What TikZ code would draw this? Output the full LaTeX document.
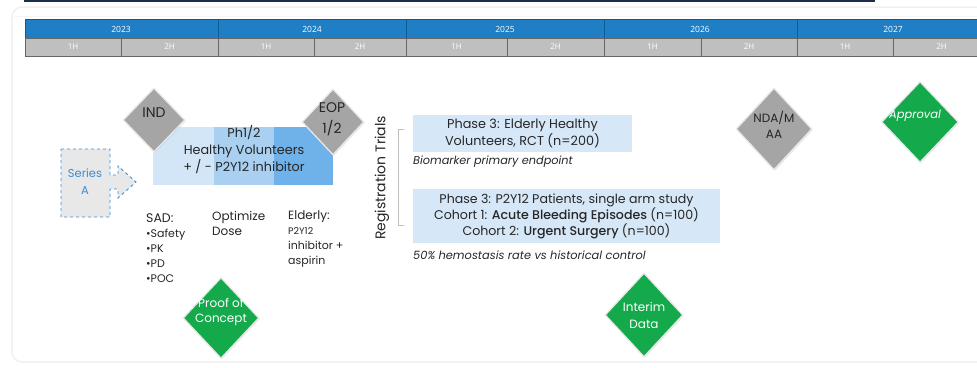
\documentclass[tikz,border=0pt]{standalone}
\usepackage{fontspec}
\setmainfont{Poppins}
\newfontfamily\hdrfont{Open Sans}
\usetikzlibrary{shapes.geometric,shadows}
\definecolor{hdrblue}{HTML}{1F7EC4}
\definecolor{hdrsep}{HTML}{0F5C99}
\definecolor{hdrgray}{HTML}{BFBFBF}
\definecolor{msgray}{HTML}{A5A5A5}
\definecolor{msgreen}{HTML}{14A94B}
\definecolor{lb1}{HTML}{D3E6F7}
\definecolor{lb2}{HTML}{A9D0F1}
\definecolor{lb3}{HTML}{6FB2E9}
\definecolor{ph3}{HTML}{D6E8F8}
\definecolor{serblue}{HTML}{3A8ED6}
\definecolor{txt}{HTML}{262626}
\tikzset{
  yearcell/.style={draw=hdrsep,line width=0.6pt,fill=hdrblue,minimum height=19pt,inner sep=0},
  halfcell/.style={draw=black!60,line width=0.6pt,fill=hdrgray,minimum height=18pt,inner sep=0},
  yeartext/.style={text=white,font=\hdrfont\fontsize{8.5}{9}\selectfont},
  halftext/.style={text=white,font=\hdrfont\fontsize{8}{9}\selectfont},
  milestone/.style={diamond,aspect=1,inner sep=0,draw=white!82!gray,line width=1.3pt,drop shadow={opacity=0.18,shadow xshift=1pt,shadow yshift=-1pt}},
  graystone/.style={milestone,fill=msgray},
  greenstone/.style={milestone,fill=msgreen},
  mstext/.style={align=center,inner sep=0},
  phbox/.style={fill=ph3,inner sep=0},
  body/.style={text=txt,inner sep=0,align=left},
}
\begin{document}
\begin{tikzpicture}[x=1pt,y=-1pt]
\useasboundingbox (0,0) rectangle (977,367);
% card and top rule
\draw[draw=black!6,line width=1.5pt,rounded corners=10pt] (12,7) rectangle (995,362);
\draw[draw=black!4,line width=0.8pt] (14,16) -- (977,16);
\draw[line width=2pt,draw={rgb,255:red,28;green,46;blue,74}] (24,0.8) -- (875,0.8);
% header: years
\foreach \a/\b [count=\i] in {25/218,218/406,406/604,604/797,797/990}{
  \node[yearcell,minimum width={\b-\a},anchor=north west] (y\i) at (\a,19) {};
}
\node[yeartext] (y1t) at (121,29) {2023};
\node[yeartext] (y2t) at (312,29) {2024};
\node[yeartext] (y3t) at (505,29) {2025};
\node[yeartext] (y4t) at (700,29) {2026};
\node[yeartext] (y5t) at (893,29) {2027};
% header: halves
\foreach \a/\b [count=\i] in {25/121,121/218,218/314,314/406,406/507,507/604,604/701,701/797,797/893,893/990}{
  \node[halfcell,minimum width={\b-\a},anchor=north west] (h\i) at (\a,38) {};
}
\foreach \c/\h [count=\i] in {73/1H,169.5/2H,266/1H,360/2H,456.5/1H,555.5/2H,652.5/1H,749/2H,845/1H,941.5/2H}{
  \node[halftext] (ht\i) at (\c,47) {\h};
}
% Series A arrow
\draw[draw=serblue,fill=black!9,dashed,line width=0.9pt]
  (61,149) -- (110,149) -- (110,175) -- (118,175) -- (118,166) -- (136,182)
  -- (118,198) -- (118,189) -- (110,189) -- (110,217) -- (61,217) -- cycle;
\node[text=serblue,align=center,font=\fontsize{11.5}{17}\selectfont,inner sep=0] (series) at (85,182) {Series\\A};
% Ph1/2 box
\fill[lb1] (153,127) rectangle (214,185);
\fill[lb2] (213.5,127) rectangle (274.5,185);
\fill[lb3] (274,127) rectangle (333,185);
\node[body,align=center,font=\fontsize{12.8}{17}\selectfont] (ph12) at (244,150) {Ph1/2\\Healthy Volunteers\\+ / - P2Y12 inhibitor};
% milestones top
\node[graystone,minimum width=62pt,minimum height=64pt] (ind) at (154,120) {};
\node[mstext,text=txt,font=\fontsize{14}{15}\selectfont] (indt) at (154,113) {IND};
\node[graystone,minimum width=62pt,minimum height=66pt] (eop) at (333,122) {};
\node[mstext,text=txt,font=\fontsize{14}{21}\selectfont] (eopt) at (332,119) {EOP\\1/2};
\node[graystone,minimum width=76pt,minimum height=82pt] (nda) at (774,129) {};
\node[mstext,text=txt,font=\fontsize{12}{16}\selectfont] (ndat) at (774,125) {NDA/M\\AA};
\node[greenstone,minimum width=77pt,minimum height=81pt] (appr) at (920,122) {};
\node[mstext,text=white,font=\itshape\fontsize{11.5}{14}\selectfont] (apprt) at (915,116) {Approval};
% registration trials
\node[body,rotate=90,font=\fontsize{14}{16}\selectfont] (reg) at (382,178) {Registration Trials};
\draw[draw=black!25,line width=0.7pt] (404,129) -- (398,129) -- (398,225) -- (404,225);
\node[phbox,minimum width=219pt,minimum height=37pt] (p3a) at (522.5,133.5) {};
\node[body,align=center,font=\fontsize{12.8}{17}\selectfont] (p3at) at (p3a) {Phase 3: Elderly Healthy\\Volunteers, RCT (n=200)};
\node[body,anchor=west,font=\itshape\fontsize{11.3}{12}\selectfont] (bio) at (413,162) {Biomarker primary endpoint};
\node[phbox,minimum width=307pt,minimum height=54pt] (p3b) at (566.5,216) {};
\node[body,align=center,font=\fontsize{12.6}{16}\selectfont] (p3bt) at (p3b) {Phase 3: P2Y12 Patients, single arm study\\Cohort 1: {\fontspec{Poppins Medium}Acute Bleeding Episodes} (n=100)\\Cohort 2: {\fontspec{Poppins Medium}Urgent Surgery} (n=100)};
\node[body,anchor=west,font=\itshape\fontsize{11.4}{12}\selectfont] (hemo) at (413,255) {50\% hemostasis rate vs historical control};
% lower left texts
\node[body,anchor=north west,font=\fontsize{11}{15}\selectfont] (sad) at (146,213) {{\fontsize{12.5}{15}\selectfont SAD:}\\•Safety\\•PK\\•PD\\•POC};
\node[body,anchor=north west,font=\fontsize{12}{15}\selectfont] (opt) at (212,211) {Optimize\\Dose};
\node[body,anchor=north west,font=\fontsize{11}{15}\selectfont] (eld) at (288,210) {{\fontsize{12}{15}\selectfont Elderly:}\\{\fontsize{9.5}{15}\selectfont P2Y12}\\inhibitor +\\aspirin};
% milestones bottom
\node[greenstone,minimum width=76pt,minimum height=81pt] (poc) at (221,318) {};
\node[mstext,text=white,font=\fontsize{12}{15}\selectfont] (poct) at (221,312) {Proof of\\Concept};
\node[greenstone,minimum width=78pt,minimum height=84pt] (interim) at (644,315) {};
\node[mstext,text=white,font=\fontsize{12}{17}\selectfont] (interimt) at (644,315) {Interim\\Data};
\end{tikzpicture}
\end{document}
